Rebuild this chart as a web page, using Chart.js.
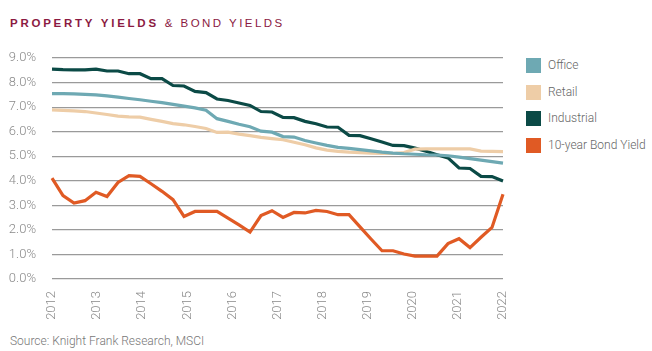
<!DOCTYPE html>
<html>
<head>
<meta charset="utf-8">
<script src="https://cdn.jsdelivr.net/npm/chart.js@4.4.1/dist/chart.umd.min.js"></script>
<style>
  body { margin: 0; width: 652px; height: 351px; background: #fff; position: relative; overflow: hidden; font-family: Roboto, "Liberation Sans", sans-serif; }
  #titulo { position: absolute; left: 10px; top: 17px; font-family: "Liberation Sans", Arial, sans-serif; font-size: 11.5px; color: #8b1a42; letter-spacing: 2.75px; white-space: nowrap; }
  #titulo b { font-weight: bold; }
  #titulo span { font-weight: normal; letter-spacing: 2.45px; }
  #caja { position: absolute; left: 0; top: 40px; width: 515px; height: 280px; }
  #leyenda { position: absolute; left: 526px; top: 58px; }
  .item { height: 26.7px; display: flex; align-items: flex-start; }
  .item i { display: block; width: 15px; height: 15px; margin-right: 7px; }
  .item em { font-style: normal; font-size: 12px; font-weight: 300; color: #666; line-height: 15px; }
  #fuente { position: absolute; left: 10px; top: 334px; font-size: 12px; font-weight: 300; color: #777; }
</style>
</head>
<body>
<div id="titulo"><b>PROPERTY YIELDS</b> <span>&amp; BOND YIELDS</span></div>
<div id="caja"><canvas id="grafico"></canvas></div>
<div id="leyenda"></div>
<div id="fuente">Source: Knight Frank Research, MSCI</div>
<script>
// etiquetas del eje X (años) y trimestres
const anios = ["2012", "2013", "2014", "2015", "2016", "2017", "2018", "2019", "2020", "2021", "2022"]
const trimestres = []
for (let y = 2012; y <= 2022; y++) {
  for (let q = 1; q <= 4; q++) trimestres.push(y + " Q" + q)
}
trimestres.length = 42  // 2012 Q1 .. 2022 Q2

// rendimientos (%) por trimestre
const office = [7.55, 7.55, 7.54, 7.52, 7.50, 7.46, 7.41, 7.35, 7.30, 7.24, 7.18, 7.11, 7.04, 6.97,
  6.87, 6.53, 6.42, 6.30, 6.20, 6.02, 5.98, 5.80, 5.78, 5.64, 5.54, 5.44, 5.36, 5.32,
  5.27, 5.22, 5.17, 5.13, 5.10, 5.08, 5.06, 5.05, 5.02, 4.96, 4.90, 4.84, 4.78, 4.72]
const retail = [6.89, 6.87, 6.85, 6.82, 6.76, 6.70, 6.63, 6.60, 6.59, 6.50, 6.42, 6.33, 6.28, 6.21,
  6.13, 5.97, 5.98, 5.90, 5.84, 5.77, 5.72, 5.67, 5.57, 5.47, 5.34, 5.25, 5.20, 5.17,
  5.15, 5.13, 5.12, 5.11, 5.15, 5.29, 5.30, 5.30, 5.30, 5.30, 5.30, 5.21, 5.20, 5.19]
const industrial = [8.55, 8.53, 8.52, 8.52, 8.55, 8.47, 8.47, 8.36, 8.36, 8.16, 8.16, 7.88, 7.86, 7.64,
  7.59, 7.33, 7.27, 7.17, 7.07, 6.82, 6.80, 6.58, 6.57, 6.42, 6.32, 6.19, 6.18, 5.85,
  5.84, 5.71, 5.58, 5.44, 5.43, 5.33, 5.20, 5.06, 4.93, 4.52, 4.50, 4.18, 4.17, 3.99]
const bono = [4.11, 3.40, 3.09, 3.19, 3.53, 3.36, 3.93, 4.21, 4.18, 3.88, 3.57, 3.23, 2.55, 2.75,
  2.75, 2.75, 2.48, 2.20, 1.91, 2.58, 2.78, 2.51, 2.71, 2.69, 2.79, 2.75, 2.62, 2.62,
  2.12, 1.63, 1.15, 1.15, 1.02, 0.93, 0.93, 0.93, 1.44, 1.64, 1.28, 1.70, 2.10, 3.45]

const series = [
  { label: "Office", data: office, color: "#6ea9b3" },
  { label: "Retail", data: retail, color: "#eecda7" },
  { label: "Industrial", data: industrial, color: "#0b4a46" },
  { label: "10-year Bond Yield", data: bono, color: "#e05a24" }
]

// leyenda
let leyenda = document.getElementById("leyenda")
series.forEach(s => {
  let d = document.createElement("div")
  d.className = "item"
  d.innerHTML = `<i style="background:${s.color}"></i><em>${s.label}</em>`
  leyenda.appendChild(d)
})

const gris = "#8a8a8a"
const fuenteEje = { family: "Roboto", size: 13, weight: 300 }

const canva = document.getElementById("grafico").getContext("2d")
window.miGrafico = new Chart(canva, {
  type: "line",
  data: {
    datasets: series.map(s => ({
      label: s.label,
      data: s.data.map((v, i) => ({ x: i, y: v })),
      borderColor: s.color,
      backgroundColor: s.color,
      borderWidth: 3.2,
      pointRadius: 0,
      tension: 0,
      clip: 5
    }))
  },
  options: {
    responsive: true,
    maintainAspectRatio: false,
    animation: false,
    layout: { padding: { top: 18, right: 12, left: 0, bottom: 0 } },
    plugins: { legend: { display: false }, tooltip: { enabled: false } },
    scales: {
      x: {
        type: "linear",
        min: 0,
        max: trimestres.length - 1,
        afterBuildTicks: (scale) => {
          scale.ticks = anios.map((a, k) => ({ value: k * (trimestres.length - 1) / (anios.length - 1) }))
        },
        // alto fijo y sin relleno extra a los lados
        afterFit: (scale) => {
          scale.height = 41
          scale.paddingLeft = 0
          scale.paddingRight = 0
        },
        grid: { display: false, drawTicks: false },
        border: { display: false },
        ticks: {
          autoSkip: false,
          minRotation: 90,
          maxRotation: 90,
          padding: 12,
          color: gris,
          font: fuenteEje,
          callback: (v, i) => anios[i]
        }
      },
      y: {
        min: 0,
        max: 9,
        afterFit: (scale) => {
          scale.width = 52
          scale.paddingTop = 0
          scale.paddingBottom = 0
        },
        grid: { color: "#9a9a9a", lineWidth: 1.2, drawTicks: false },
        border: { display: false },
        ticks: {
          stepSize: 1,
          padding: 16,
          color: gris,
          font: fuenteEje,
          callback: (v) => v.toFixed(1) + "%"
        }
      }
    }
  }
})
</script>
</body>
</html>
